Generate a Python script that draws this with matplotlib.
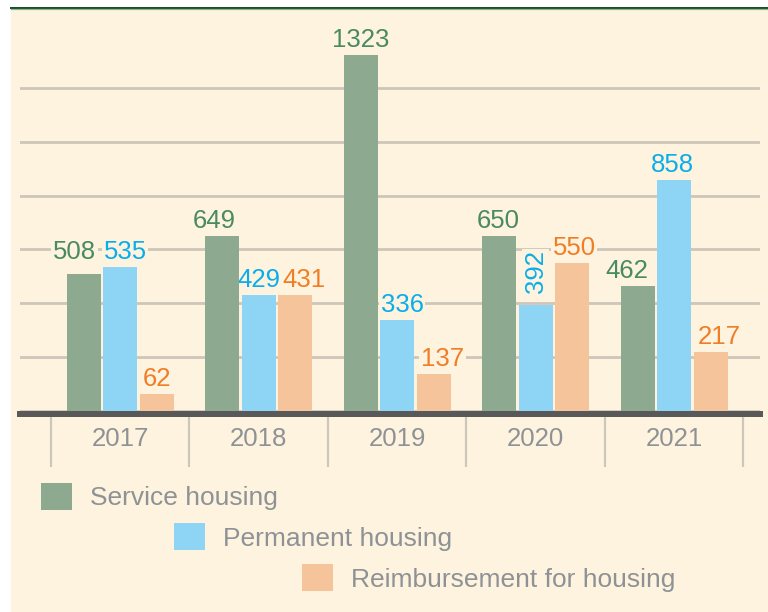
import numpy as np
import matplotlib
matplotlib.use("Agg")
import matplotlib.pyplot as plt
from matplotlib.patches import Rectangle
from matplotlib.lines import Line2D

# ---- data ----
years = ["2017", "2018", "2019", "2020", "2021"]
series_names = ["Service housing", "Permanent housing", "Reimbursement for housing"]
service = [508, 649, 1323, 650, 462]
permanent = [535, 429, 336, 392, 858]
reimbursement = [62, 431, 137, 550, 217]
values = [service, permanent, reimbursement]

# ---- styles ----
bar_colors = ["#8DAA91", "#8ED5F5", "#F5C49A"]
label_colors = ["#4A8A60", "#0AAEEA", "#F07E26"]
cream = "#FEF3DE"
grid_c = "#CDC6BA"
gray_txt = "#8E9296"
axis_c = "#595959"

# label nudges (pixels) for readability, as in the original
label_dx = [[-9, -8, 0, -1, -11],
            [5, 0, 5, 0, -1.5],
            [0, 9, 9, 2, 9]]
W, H = 768, 612
DPI = 100
PT = 72.0 / DPI  # points per pixel
num_size = 18.5

plt.rcParams['font.family'] = ['Liberation Sans', 'DejaVu Sans']

fig = plt.figure(figsize=(W / DPI, H / DPI), dpi=DPI, facecolor="white")

def fx(px):
    return px / W

def fy(py):
    return 1 - py / H

# cream background panel
fig.patches.append(Rectangle((fx(11), 0), 1 - fx(11), fy(9.5), transform=fig.transFigure,
                             facecolor=cream, edgecolor="none", zorder=-5))
fig.lines.append(Line2D([fx(11), 1], [fy(7.7), fy(7.7)], transform=fig.transFigure,
                        color="#1D4D2B", linewidth=2 * PT, zorder=-4))
fig.lines.append(Line2D([fx(11), 1], [fy(9.3), fy(9.3)], transform=fig.transFigure,
                        color="#86B886", linewidth=1.2 * PT, zorder=-4))

y0_px = 410.5
top_px = 20.9
ymax = 1450
ax = fig.add_axes([fx(20), fy(y0_px), fx(760) - fx(20), (y0_px - top_px) / H])
ax.set_facecolor("none")

x = np.arange(len(years))
spacing_px = 138.5
bar_w = 34 / spacing_px
off = 36.5 / spacing_px
offsets = [-off, 0, off]

bars = []
for i in range(3):
    bc = ax.bar(x + offsets[i], values[i], bar_w, color=bar_colors[i], zorder=3,
                linewidth=0)
    bars.append(bc)

ax.set_xlim((20 - 120) / spacing_px, (760 - 120) / spacing_px)
ax.set_ylim(0, ymax)

# grid
ax.set_yticks(np.arange(0, 1201, 200))
ax.yaxis.grid(True, color=grid_c, linewidth=2.8 * PT)
ax.set_axisbelow(True)
ax.tick_params(axis="y", length=0, labelleft=False)

for s in ["left", "right", "top"]:
    ax.spines[s].set_visible(False)
ax.spines["bottom"].set_color(axis_c)
ax.spines["bottom"].set_linewidth(6 * PT)
ax.spines["bottom"].set_position(("outward", 3 * PT))
ax.spines["bottom"].set_zorder(4)

# category separators and year labels
ax.set_xticks(np.arange(-0.5, len(years), 1))
ax.set_xticklabels([])
ax.tick_params(axis="x", which="major", length=53 * PT, width=2.2 * PT,
               color=grid_c, direction="out")
ax.set_xticks(x, labels=years, minor=True)
ax.tick_params(axis="x", which="minor", length=0, pad=14 * PT,
               labelsize=num_size, labelcolor=gray_txt)

# value labels
for i in range(3):
    for j in range(len(years)):
        v = values[i][j]
        xi = x[j] + offsets[i]
        if i == 1 and j == 3:
            ax.annotate(str(v), (xi, v), xytext=(0, 12 * PT), textcoords="offset points",
                        ha="center", va="bottom", rotation=90, fontsize=num_size,
                        color=label_colors[i], zorder=2.8,
                        bbox=dict(boxstyle="square,pad=0.06", fc=cream, ec="none"))
            continue
        anchor = v
        if i == 0 and j == 0:
            anchor = permanent[0]
        ax.annotate(str(v), (xi, anchor), xytext=(label_dx[i][j] * PT, 8 * PT),
                    textcoords="offset points", ha="center", va="baseline",
                    fontsize=num_size, color=label_colors[i], zorder=2.8,
                    bbox=dict(boxstyle="square,pad=0.06", fc=cream, ec="none"))

# staggered legend
leg_pos = [(41, 496.5), (174, 537), (302, 578)]
fs = 19
fs_px = fs / PT
for i in range(3):
    lg = fig.legend([bars[i]], [series_names[i]], loc="center left",
                    bbox_to_anchor=(fx(leg_pos[i][0]), fy(leg_pos[i][1])),
                    bbox_transform=fig.transFigure, frameon=False,
                    borderpad=0, borderaxespad=0,
                    handlelength=31 / fs_px, handleheight=31 / fs_px,
                    handletextpad=18 / fs_px, fontsize=fs, labelcolor=gray_txt)

fig.savefig("out.png", dpi=DPI, facecolor="white")
